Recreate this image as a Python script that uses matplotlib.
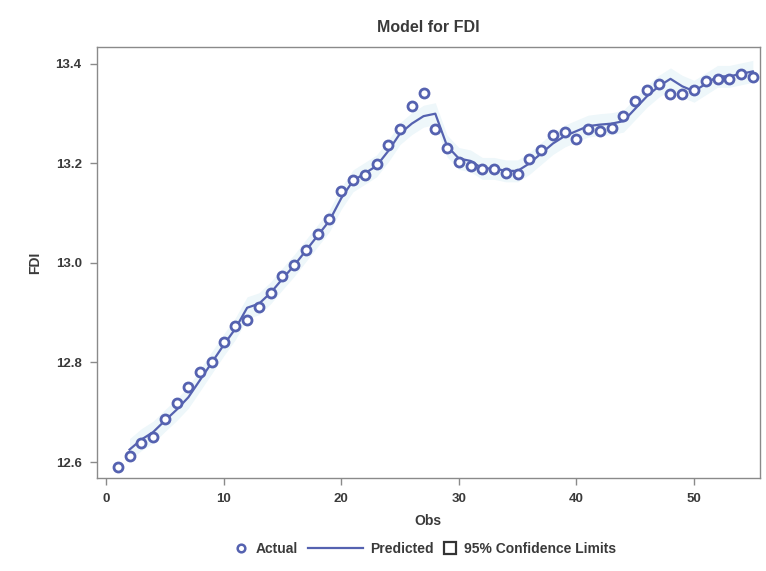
import matplotlib
matplotlib.use("Agg")
import matplotlib.pyplot as plt
from matplotlib.lines import Line2D

# observation index and actual FDI (log scale)
obs = list(range(1, 56))
actual = [12.590, 12.612, 12.638, 12.650, 12.686, 12.719, 12.751, 12.781, 12.801, 12.841,
          12.873, 12.885, 12.912, 12.940, 12.974, 12.996, 13.026, 13.058, 13.088, 13.145,
          13.167, 13.177, 13.199, 13.237, 13.269, 13.316, 13.342, 13.269, 13.231, 13.203,
          13.195, 13.189, 13.189, 13.181, 13.179, 13.209, 13.227, 13.257, 13.263, 13.249,
          13.269, 13.265, 13.271, 13.295, 13.326, 13.348, 13.360, 13.340, 13.340, 13.348,
          13.366, 13.370, 13.370, 13.380, 13.374]

# one-step predictions start at the second observation
pred_obs = list(range(2, 56))
predicted = [12.625, 12.645, 12.660, 12.683, 12.705, 12.730, 12.765, 12.800, 12.835,
             12.868, 12.910, 12.918, 12.940, 12.968, 12.995, 13.025, 13.055, 13.085, 13.130,
             13.165, 13.180, 13.195, 13.225, 13.260, 13.280, 13.295, 13.300, 13.235, 13.210,
             13.205, 13.190, 13.190, 13.185, 13.185, 13.200, 13.220, 13.240, 13.255, 13.265,
             13.275, 13.278, 13.280, 13.285, 13.310, 13.335, 13.355, 13.370, 13.355, 13.345,
             13.360, 13.375, 13.375, 13.380, 13.385]
ci_half = 0.022

blue = "#5562b0"
grey_txt = "#3a3a3a"
plt.rcParams["font.family"] = ["Liberation Sans", "DejaVu Sans"]
plt.rcParams["font.weight"] = "bold"

fig = plt.figure(figsize=(7.66, 5.71), dpi=100)
ax = fig.add_axes([0.1266, 0.163, 0.8654, 0.7547])

lo = [p - ci_half for p in predicted]
hi = [p + ci_half for p in predicted]
ax.fill_between(pred_obs, lo, hi, color="#eef7fa", lw=0, zorder=1)
ax.plot(pred_obs, predicted, color=blue, lw=1.6, zorder=2)
ax.plot(obs, actual, ls="none", marker="o", ms=6.5, mfc="white", mec=blue, mew=2.0, zorder=3)

ax.set_xlim(-0.77, 55.6)
ax.set_ylim(12.568, 13.434)
ax.set_xticks([0, 10, 20, 30, 40, 50])
ax.set_yticks([12.6, 12.8, 13.0, 13.2, 13.4])
ax.set_yticklabels(["12.6", "12.8", "13.0", "13.2", "13.4"])
for s in ax.spines.values():
    s.set_color("#8a8a8a")
    s.set_linewidth(1.0)
ax.tick_params(direction="out", length=5, width=1, color="#8a8a8a",
               labelcolor=grey_txt, labelsize=9.5, pad=6)

ax.set_title("Model for FDI", fontsize=11.5, fontweight="bold", color=grey_txt, pad=11)
ax.set_xlabel("Obs", fontsize=10, fontweight="bold", color=grey_txt, labelpad=6)
ax.set_ylabel("FDI", fontsize=10, fontweight="bold", color=grey_txt, labelpad=10)

# legend entries laid out one by one so each handle gets its own width
entries = [
    (Line2D([], [], ls="none", marker="o", ms=5.5, mfc="white", mec=blue, mew=1.8),
     "Actual", 0.306, 1.0),
    (Line2D([], [], color=blue, lw=1.6), "Predicted", 0.402, 4.0),
    (Line2D([], [], ls="none", marker="s", ms=8.5, mfc="white", mec="#333333", mew=1.6),
     "95% Confidence Limits", 0.578, 1.0),
]
for handle, label, x0, hl in entries:
    leg = fig.legend([handle], [label], loc="center left", bbox_to_anchor=(x0, 0.0385),
                     frameon=False, fontsize=10, handlelength=hl, handletextpad=0.5,
                     borderpad=0, borderaxespad=0, labelcolor=grey_txt)
    for t in leg.get_texts():
        t.set_fontweight("bold")

fig.savefig("out.png", dpi=100)
